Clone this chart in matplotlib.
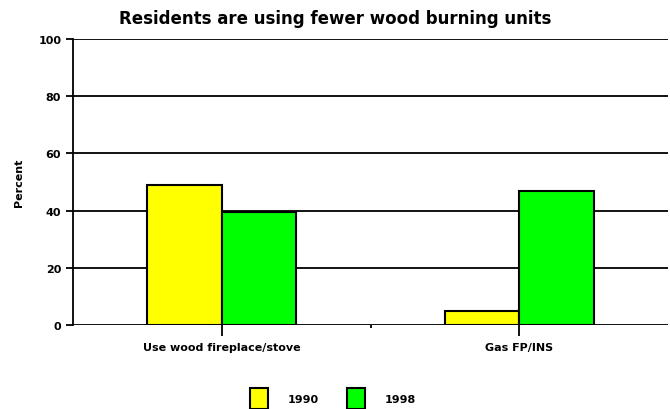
import matplotlib.pyplot as plt
import numpy as np

categories = ["Use wood fireplace/stove", "Gas FP/INS"]
years = ["1990", "1998"]
pct_1990 = [49, 5]
pct_1998 = [39.5, 47]
colors = ["#ffff00", "#00ff00"]

fig = plt.figure(figsize=(6.7, 4.1), dpi=100)
ax = fig.add_axes([0.109, 0.205, 0.888, 0.697])

x = np.arange(len(categories))
w = 0.25
b1 = ax.bar(x - w / 2, pct_1990, w, color=colors[0], edgecolor="black",
            linewidth=1.5, zorder=3, label=years[0])
b2 = ax.bar(x + w / 2, pct_1998, w, color=colors[1], edgecolor="black",
            linewidth=1.5, zorder=3, label=years[1])

ax.set_xlim(-0.5, 1.5)
ax.set_ylim(0, 100)
ax.set_yticks(range(0, 101, 20))
ax.yaxis.grid(True, color="black", linewidth=1.3)
ax.set_axisbelow(True)

for s in ["top", "right", "bottom"]:
    ax.spines[s].set_visible(False)
ax.spines["left"].set_linewidth(1.3)

ax.set_xticks(x)
ax.set_xticklabels(categories, fontsize=8, fontweight="bold")
ax.set_xticks([0.5], minor=True)
ax.tick_params(axis="x", which="major", length=8, width=1.3, pad=4)
ax.tick_params(axis="x", which="minor", length=2, width=1.3)
ax.tick_params(axis="y", length=5, width=1.3, labelsize=8)
for t in ax.get_yticklabels():
    t.set_fontweight("bold")

ax.set_ylabel("Percent", fontsize=8, fontweight="bold", labelpad=10)
fig.suptitle("Residents are using fewer wood burning units", x=0.5, y=0.975,
             fontsize=12, fontweight="bold")

fig.legend(handles=[b1, b2], loc="lower center", bbox_to_anchor=(0.497, -0.025),
           ncol=2, frameon=False, prop={"weight": "bold", "size": 8},
           handlelength=1.6, handleheight=2.6, columnspacing=2.5,
           handletextpad=1.8)

fig.savefig("out.png", dpi=100)
